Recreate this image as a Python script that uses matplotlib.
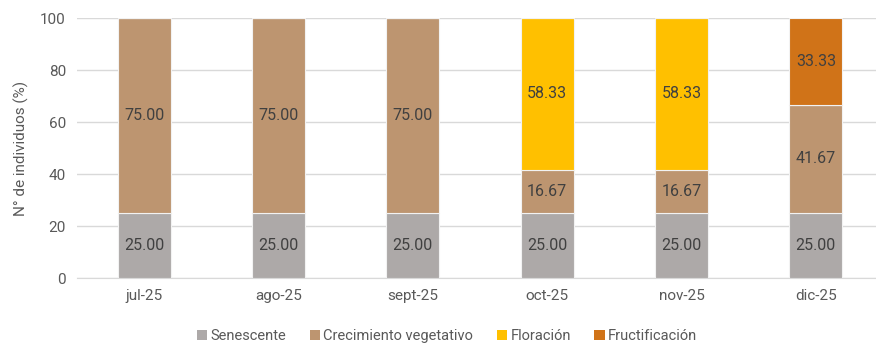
import numpy as np
import matplotlib.pyplot as plt
from matplotlib.patches import Patch

plt.rcParams['font.family'] = ['Roboto', 'DejaVu Sans']

meses = ['jul-25', 'ago-25', 'sept-25', 'oct-25', 'nov-25', 'dic-25']
senescente = [25.00, 25.00, 25.00, 25.00, 25.00, 25.00]
crecimiento = [75.00, 75.00, 75.00, 16.67, 16.67, 41.67]
floracion = [0, 0, 0, 58.33, 58.33, 0]
fructificacion = [0, 0, 0, 0, 0, 33.33]

series = [
    ('Senescente', senescente, '#ADA9A8'),
    ('Crecimiento vegetativo', crecimiento, '#BD9570'),
    ('Floración', floracion, '#FFC000'),
    ('Fructificación', fructificacion, '#D07318'),
]

fig = plt.figure(figsize=(8.76, 3.44), dpi=100)
ax = fig.add_axes([77 / 876, 1 - 278 / 344, 1 - 77 / 876, 260 / 344])

x = np.arange(len(meses))
base = np.zeros(len(meses))
for nombre, vals, color in series:
    vals = np.array(vals)
    ax.bar(x, vals, 0.395, bottom=base, color=color, edgecolor='#F2F2F2',
           linewidth=0.8, zorder=3)
    for xi, b, v in zip(x, base, vals):
        if v > 0:
            ax.text(xi, b + v / 2, f'{v:.2f}', ha='center', va='center',
                    fontsize=11.5, color='#404040', zorder=4)
    base += vals

ax.set_xlim(-0.5, 5.5 - 7 / 134.4)
ax.set_ylim(0, 100)
ax.set_yticks(range(0, 101, 20))
ax.set_xticks(x)
ax.set_xticklabels(meses)
ax.yaxis.grid(True, color='#D9D9D9', linewidth=1, zorder=0)
for s in ['top', 'right', 'left']:
    ax.spines[s].set_visible(False)
ax.spines['bottom'].set_color('#D9D9D9')
ax.tick_params(axis='both', length=0, labelsize=11, colors='#595959', pad=8)
ax.set_ylabel('N° de individuos (%)', fontsize=11, color='#595959', labelpad=8)

handles = [Patch(facecolor=c, label=n) for n, _, c in series]
fig.legend(handles=handles, loc='center', bbox_to_anchor=(447 / 876, 1 - 336 / 344),
           ncol=4, frameon=False, fontsize=10.5, labelcolor='#595959',
           handlelength=0.7, handleheight=0.7, handletextpad=0.25, columnspacing=1.6)

fig.savefig('out.png', dpi=100)
